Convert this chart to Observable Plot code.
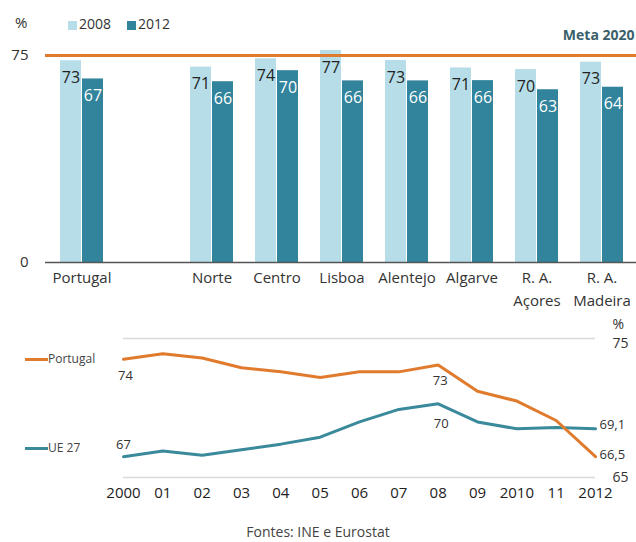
<!DOCTYPE html>
<html>
<head>
<meta charset="utf-8">
<script src="https://cdn.jsdelivr.net/npm/d3@7"></script>
<script src="https://cdn.jsdelivr.net/npm/@observablehq/plot@0.6"></script>
<style>
  html, body { margin: 0; padding: 0; background: #fff; }
  body { font-family: "Open Sans", sans-serif; color: #333; }
  #wrap { position: relative; width: 636px; height: 542px; overflow: hidden; }
  .abs { position: absolute; white-space: nowrap; }
  .sw { position: absolute; }
</style>
</head>
<body>
<div id="wrap"></div>
<script>
// ---------- DATA ----------
const regions = ["Portugal", "", "Norte", "Centro", "Lisboa", "Alentejo", "Algarve", "R. A.\nAçores", "R. A.\nMadeira"];
const barRegions = ["Portugal", "Norte", "Centro", "Lisboa", "Alentejo", "Algarve", "R. A.\nAçores", "R. A.\nMadeira"];
const rate2008 = [73.1, 70.8, 73.8, 76.8, 73.2, 70.5, 69.9, 72.6];
const rate2012 = [66.5, 65.5, 69.5, 65.8, 65.8, 65.9, 62.6, 63.5];
const meta2020 = 75;

const years = [2000, 2001, 2002, 2003, 2004, 2005, 2006, 2007, 2008, 2009, 2010, 2011, 2012];
const yearLabels = ["2000", "01", "02", "03", "04", "05", "06", "07", "08", "09", "2010", "11", "2012"];
const portugal = [73.5, 73.9, 73.6, 72.9, 72.6, 72.2, 72.6, 72.6, 73.1, 71.2, 70.5, 69.1, 66.5];
const ue27 = [66.5, 66.9, 66.6, 67.0, 67.4, 67.9, 69.0, 69.9, 70.3, 69.0, 68.5, 68.6, 68.5];
const lineTicks = [65, 75];
const ptLabels = [{year: 2000, text: "74"}, {year: 2008, text: "73"}];
const ueLabelStart = {year: 2000, text: "67"};
const ueLabelPeak = {year: 2008, text: "70"};
const endLabels = {portugal: "66,5", ue27: "69,1"};

const cLight = "#b7dee8", cDark = "#31849b", cOrange = "#e07b2e", cTeal = "#3a8a9b";

// ---------- TABLES ----------
const bars08 = barRegions.map((r, i) => ({region: r, value: rate2008[i]}));
const bars12 = barRegions.map((r, i) => ({region: r, value: rate2012[i]}));
const ptSeries = years.map((y, i) => ({year: y, value: portugal[i]}));
const ueSeries = years.map((y, i) => ({year: y, value: ue27[i]}));
const ptAnn = ptLabels.map(d => ({...d, value: portugal[years.indexOf(d.year)]}));
const ueAnnStart = [{...ueLabelStart, value: ue27[years.indexOf(ueLabelStart.year)]}];
const ueAnnPeak = [{...ueLabelPeak, value: ue27[years.indexOf(ueLabelPeak.year)]}];
const ptEnd = [{year: years[years.length - 1], value: portugal[portugal.length - 1], text: endLabels.portugal}];
const ueEnd = [{year: years[years.length - 1], value: ue27[ue27.length - 1], text: endLabels.ue27}];

const wrap = document.getElementById("wrap");

// ---------- BAR CHART ----------
const barPlot = Plot.plot({
  width: 636, height: 320,
  marginLeft: 45, marginRight: 0, marginTop: 55, marginBottom: 58,
  style: {fontFamily: "Open Sans, sans-serif", color: "#333", background: "transparent", overflow: "visible"},
  x: {type: "band", domain: regions, paddingInner: 1/3, paddingOuter: 0.144, align: 0.55, label: null},
  y: {domain: [0, 75], label: null},
  marks: [
    Plot.barY(bars08, {x: "region", y: "value", fill: cLight, insetRight: 22}),
    Plot.barY(bars12, {x: "region", y: "value", fill: cDark, insetLeft: 22}),
    Plot.ruleY([meta2020], {stroke: cOrange, strokeWidth: 3}),
    Plot.ruleY([0], {stroke: "#555", strokeWidth: 1.5}),
    Plot.text(bars08, {x: "region", y: "value", text: d => String(Math.round(d.value)), dx: -11, dy: 17, fontSize: 16, fill: "#222"}),
    Plot.text(bars12, {x: "region", y: "value", text: d => String(Math.round(d.value)), dx: 11, dy: 17, fontSize: 16, fill: "#fff"}),
    Plot.text(["Meta 2020"], {frameAnchor: "right", y: [meta2020], text: d => d, textAnchor: "end", dx: -2, dy: -20, fontSize: 14, fontWeight: "bold", fill: "#3b5e6b"}),
    Plot.axisX({tickSize: 0, tickPadding: 5, fontSize: 15, lineHeight: 1.5, fill: "#333"}),
    Plot.axisY({ticks: [0, 75], tickSize: 0, tickPadding: 17, fontSize: 15, fill: "#333", label: null})
  ]
});
barPlot.style.position = "absolute";
barPlot.style.left = "0px";
barPlot.style.top = "0px";
wrap.appendChild(barPlot);

// ---------- LINE CHART ----------
const linePlot = Plot.plot({
  width: 636, height: 200,
  marginLeft: 123, marginRight: 41, marginTop: 28, marginBottom: 33,
  style: {fontFamily: "Open Sans, sans-serif", color: "#333", background: "transparent", overflow: "visible"},
  x: {domain: [2000, 2012], label: null},
  y: {domain: [65, 75], label: null, axis: null},
  marks: [
    Plot.ruleY(lineTicks, {stroke: "#d9d9d9", strokeWidth: 1.5}),
    Plot.lineY(ueSeries, {x: "year", y: "value", stroke: cTeal, strokeWidth: 3}),
    Plot.lineY(ptSeries, {x: "year", y: "value", stroke: cOrange, strokeWidth: 3}),
    Plot.text(ptAnn, {x: "year", y: "value", text: "text", dx: 2, dy: 16, fontSize: 13, fill: "#333"}),
    Plot.text(ueAnnStart, {x: "year", y: "value", text: "text", dy: -12, fontSize: 13, fill: "#333"}),
    Plot.text(ueAnnPeak, {x: "year", y: "value", text: "text", dx: 3, dy: 20, fontSize: 13, fill: "#333"}),
    Plot.text(ptEnd, {x: "year", y: "value", text: "text", textAnchor: "start", dx: 4, dy: -2, fontSize: 13, fill: "#333"}),
    Plot.text(ueEnd, {x: "year", y: "value", text: "text", textAnchor: "start", dx: 4, dy: -4, fontSize: 13, fill: "#333"}),
    // right-hand y axis: "%" unit stacked above the 75 tick, then the 65 tick
    Plot.text([lineTicks[1]], {frameAnchor: "right", y: d => d, text: d => "%\n" + d, lineAnchor: "bottom", lineHeight: 1.35, textAnchor: "start", dx: 17, dy: 9, fontSize: 14, fill: "#333"}),
    Plot.text([lineTicks[0]], {frameAnchor: "right", y: d => d, text: d => String(d), textAnchor: "start", dx: 17, fontSize: 14, fill: "#333"}),
    Plot.axisX({ticks: years, tickFormat: d => yearLabels[years.indexOf(d)], tickSize: 0, tickPadding: 10, fontSize: 15, fill: "#222"})
  ]
});
linePlot.style.position = "absolute";
linePlot.style.left = "0px";
linePlot.style.top = "310px";
wrap.appendChild(linePlot);

// ---------- LEGENDS & CAPTION (HTML) ----------
function addText(txt, left, top, size, extra) {
  const d = document.createElement("div");
  d.className = "abs";
  d.textContent = txt;
  d.style.left = left + "px";
  d.style.top = top + "px";
  d.style.fontSize = size + "px";
  d.style.lineHeight = "1";
  if (extra) Object.assign(d.style, extra);
  wrap.appendChild(d);
  return d;
}
function addSwatch(left, top, w, h, color) {
  const s = document.createElement("div");
  s.className = "sw";
  Object.assign(s.style, {left: left + "px", top: top + "px", width: w + "px", height: h + "px", background: color});
  wrap.appendChild(s);
}
addText("%", 15, 15, 15);
addSwatch(68, 21, 9, 9, cLight);
addText("2008", 79, 17, 14);
addSwatch(127, 21, 9, 9, cDark);
addText("2012", 138, 17, 14);

// line legend
addSwatch(25, 358, 23, 3, cOrange);
addText("Portugal", 48, 353, 12, {color: "#444"});
addSwatch(25, 447, 23, 3, cTeal);
addText("UE 27", 48, 442, 12, {color: "#444"});

// caption
addText("Fontes: INE e Eurostat", 0, 525, 14, {width: "636px", textAlign: "center", color: "#444"});
</script>
</body>
</html>
